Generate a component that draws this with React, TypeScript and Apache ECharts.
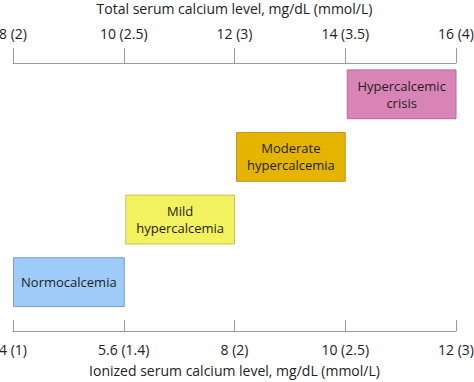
import React, { useEffect, useRef } from "react";
import * as echarts from "echarts";

const topTickValues = [8, 10, 12, 14, 16];
const topTickLabels = ["8 (2)", "10 (2.5)", "12 (3)", "14 (3.5)", "16 (4)"];
const bottomTickLabels = ["4 (1)", "5.6 (1.4)", "8 (2)", "10 (2.5)", "12 (3)"];
const categories = ["Normocalcemia", "Mild\nhypercalcemia", "Moderate\nhypercalcemia", "Hypercalcemic\ncrisis"];
const rangeStart = [8, 10, 12, 14];
const rangeEnd = [10, 12, 14, 16];
const fillColors = ["#9ecbf8", "#f2f25e", "#e5b400", "#d984b6"];
const borderColors = ["#7c9ccb", "#c6c45c", "#c0962c", "#b66a98"];

const FONT = "'Open Sans', 'Noto Sans', sans-serif";

export default function App() {
  const ref = useRef<HTMLDivElement>(null);
  useEffect(() => {
    if (!ref.current) return;
    const chart = echarts.init(ref.current, undefined, { renderer: "svg" });
    const data = categories.map((c, i) => [rangeStart[i], rangeEnd[i], i, c]);
    const labelFmt = (labels: string[]) => (v: number) => {
      const idx = topTickValues.indexOf(v);
      return idx >= 0 ? labels[idx] : "";
    };
    chart.setOption({
      animation: false,
      grid: { left: 13, right: 18, top: 63, bottom: 51, containLabel: false, outerBoundsMode: "none" },
      xAxis: [
        {
          type: "value",
          position: "top",
          min: 8,
          max: 16,
          interval: 2,
          name: "Total serum calcium level, mg/dL (mmol/L)",
          nameLocation: "middle",
          nameGap: 48,
          nameTextStyle: { color: "#222222", fontSize: 14, fontFamily: FONT },
          axisLine: { show: true, onZero: false, lineStyle: { color: "#9a9a9a", width: 1 } },
          axisTick: { show: true, inside: false, length: 15, lineStyle: { color: "#9a9a9a" } },
          axisLabel: {
            formatter: labelFmt(topTickLabels),
            color: "#222222",
            fontSize: 14,
            fontFamily: FONT,
            margin: 23,
          },
          splitLine: { show: false },
        },
        {
          type: "value",
          position: "bottom",
          min: 8,
          max: 16,
          interval: 2,
          name: "Ionized serum calcium level, mg/dL (mmol/L)",
          nameLocation: "middle",
          nameGap: 32,
          nameTextStyle: { color: "#222222", fontSize: 14, fontFamily: FONT },
          axisLine: { show: true, onZero: false, lineStyle: { color: "#9a9a9a", width: 1 } },
          axisTick: { show: true, inside: true, length: 11, lineStyle: { color: "#9a9a9a" } },
          axisLabel: {
            formatter: labelFmt(bottomTickLabels),
            color: "#222222",
            fontSize: 14,
            fontFamily: FONT,
            margin: 11,
          },
          splitLine: { show: false },
        },
      ],
      yAxis: {
        type: "value",
        min: -0.78,
        max: 3.5,
        show: false,
      },
      series: [
        {
          type: "custom",
          xAxisIndex: 0,
          data,
          encode: { x: [0, 1], y: 2 },
          renderItem: (params: any, api: any) => {
            const s = api.value(0);
            const e = api.value(1);
            const row = api.value(2);
            const idx = params.dataIndex;
            const p0 = api.coord([s, row]);
            const p1 = api.coord([e, row]);
            const h = api.size([0, 0.78])[1];
            const x = p0[0] + (idx === 0 ? 0.5 : 2);
            const w = p1[0] - p0[0] - (idx === 0 ? 0 : 2);
            return {
              type: "group",
              children: [
                {
                  type: "rect",
                  shape: { x, y: p0[1] - h / 2, width: w, height: h },
                  style: { fill: fillColors[idx], stroke: borderColors[idx], lineWidth: 1 },
                },
                {
                  type: "text",
                  style: {
                    x: x + w / 2,
                    y: p0[1],
                    text: categories[idx],
                    align: "center",
                    verticalAlign: "middle",
                    fill: "#1e1e1e",
                    fontSize: 13,
                    fontFamily: FONT,
                    lineHeight: 17,
                  },
                },
              ],
            };
          },
        },
      ],
    });
    return () => chart.dispose();
  }, []);
  return <div ref={ref} style={{ width: 474, height: 382, position: "absolute", left: 0, top: 0 }} />;
}
